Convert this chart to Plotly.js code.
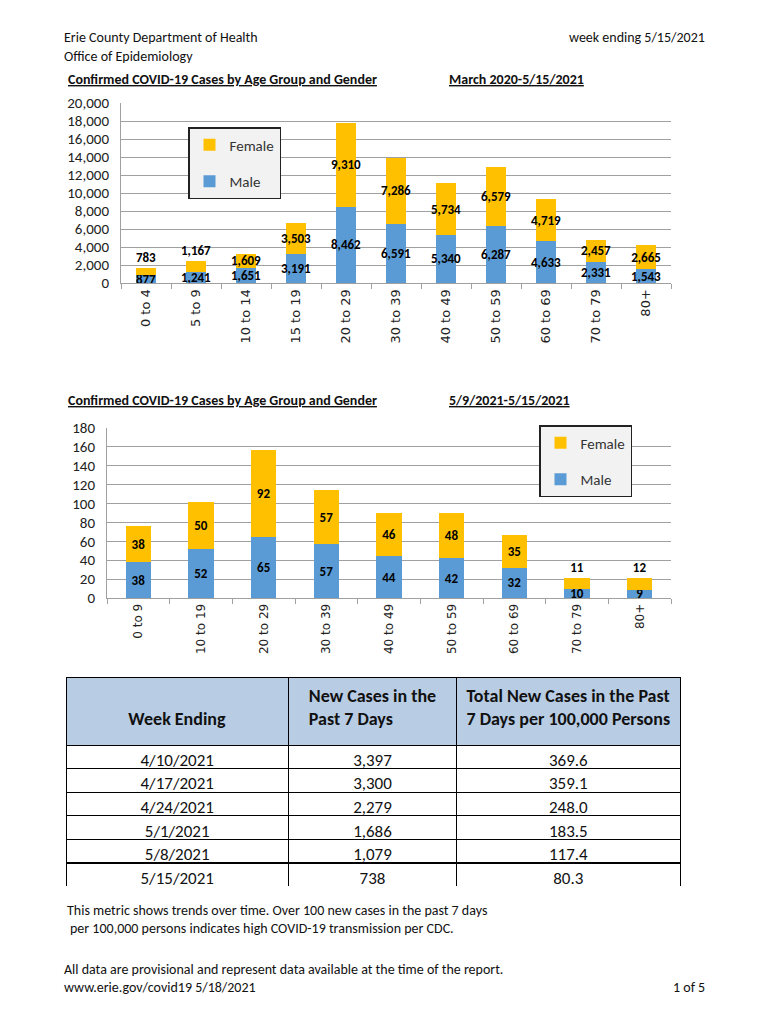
<!DOCTYPE html>
<html><head><meta charset="utf-8">
<script src="https://cdn.plot.ly/plotly-3.0.1.min.js"></script>
<style>html,body{margin:0;padding:0;background:#fff}#chart{width:770px;height:1024px}</style>
</head><body><div id="chart"></div>
<script>
// ---- data ----
const ageGroups1 = ['0 to 4','5 to 9','10 to 14','15 to 19','20 to 29','30 to 39','40 to 49','50 to 59','60 to 69','70 to 79','80+'];
const male1   = [877,1241,1651,3191,8462,6591,5340,6287,4633,2331,1543];
const female1 = [783,1167,1609,3503,9310,7286,5734,6579,4719,2457,2665];

const ageGroups2 = ['0 to 9','10 to 19','20 to 29','30 to 39','40 to 49','50 to 59','60 to 69','70 to 79','80+'];
const male2   = [38,52,65,57,44,42,32,10,9];
const female2 = [38,50,92,57,46,48,35,11,12];

const weekEnding = ['4/10/2021','4/17/2021','4/24/2021','5/1/2021','5/8/2021','5/15/2021'];
const newCases7d = [3397,3300,2279,1686,1079,738];
const ratePer100k = [369.6,359.1,248.0,183.5,117.4,80.3];
const tableHeaders = [' <br><b>Week Ending</b>','<b>New Cases in the<br>Past 7 Days</b>','<b>Total New Cases in the Past<br>7 Days per 100,000 Persons</b>'];

// ---- styling ----
const W = 770, H = 1024;
const px = v => v / W, py = v => 1 - v / H;
const NARROW = "'Liberation Sans Narrow','Arial Narrow',Carlito,Calibri,Lato,sans-serif";
const TICKF = "'DejaVu Sans',Verdana,sans-serif";
const BLUE = '#5b9bd5', GOLD = '#ffc000';
const fmt = v => v.toLocaleString('en-US');

// chart geometry (pixels)
const C1 = {x0: 121, x1: 671, top: 103, bottom: 283, max: 20000};
const C2 = {x0: 107, x1: 671, top: 428, bottom: 598, max: 180};

function barTrace(x, y, name, color, xa, ya, legend, rank, fs, chart, isTop) {
  const pxPerUnit = (chart.bottom - chart.top) / chart.max;
  const pos = isTop ? y.map(v => (v * pxPerUnit < 12 ? 'outside' : 'inside')) : 'inside';
  return {
    type: 'bar', x: x, y: y, name: name, xaxis: xa, yaxis: ya, legend: legend,
    legendgroup: name + legend, legendrank: rank,
    marker: {color: color, line: {width: 0}},
    text: y.map(fmt), textposition: pos, insidetextanchor: 'middle',
    constraintext: 'none', textangle: 0, cliponaxis: false,
    textfont: {family: NARROW, size: fs, color: '#000', weight: 'bold'},
    hoverinfo: 'skip'
  };
}

const data = [
  barTrace(ageGroups1, male1, 'Male', BLUE, 'x', 'y', 'legend', 2, 13, C1, false),
  barTrace(ageGroups1, female1, 'Female', GOLD, 'x', 'y', 'legend', 1, 13, C1, true),
  barTrace(ageGroups2, male2, 'Male', BLUE, 'x2', 'y2', 'legend2', 2, 13, C2, false),
  barTrace(ageGroups2, female2, 'Female', GOLD, 'x2', 'y2', 'legend2', 1, 13, C2, true),
  {
    type: 'table',
    domain: {x: [px(66), px(680)], y: [py(886), py(677)]},
    columnwidth: [222, 168, 223],
    header: {
      values: tableHeaders,
      align: 'center',
      height: 68,
      fill: {color: '#b8cce4'},
      line: {color: '#000', width: 1},
      font: {family: NARROW, size: 18, color: '#111'}
    },
    cells: {
      values: [weekEnding, newCases7d.map(fmt), ratePer100k.map(v => v.toFixed(1))],
      align: 'center',
      height: 23.6,
      fill: {color: '#fff'},
      line: {color: '#000', width: 1},
      font: {family: NARROW, size: 17, color: '#111'}
    }
  }
];

function yax(domain, range, dtick, fmtStr) {
  return {
    domain: domain, range: range, dtick: dtick, tickformat: fmtStr,
    showgrid: true, gridcolor: '#a0a0a0', gridwidth: 1,
    showline: true, linecolor: '#a0a0a0', linewidth: 1,
    ticks: '', ticklabelstandoff: 8,
    tickfont: {family: NARROW, size: 15, color: '#222'},
    zeroline: false, fixedrange: true
  };
}
function xax(domain, anchor, fs) {
  return {
    domain: domain, anchor: anchor, type: 'category',
    showline: true, linecolor: '#a0a0a0', linewidth: 1,
    ticks: 'outside', tickson: 'boundaries', ticklen: 5, tickcolor: '#a0a0a0',
    tickangle: -90, tickfont: {family: TICKF, size: fs, color: '#222'},
    showgrid: false, fixedrange: true
  };
}

const legendStyle = (x, y) => ({
  x: x, y: y, xanchor: 'left', yanchor: 'top',
  bgcolor: '#f2f2f2', bordercolor: '#222', borderwidth: 1.5,
  traceorder: 'grouped', tracegroupgap: 14,
  font: {family: NARROW, size: 15, color: '#333'},
  itemclick: false, itemdoubleclick: false
});

function txt(x, y, text, anchor, opts) {
  return Object.assign({
    xref: 'paper', yref: 'paper', x: px(x), y: py(y), text: text,
    xanchor: anchor || 'left', yanchor: 'middle', showarrow: false,
    font: {family: NARROW, size: 14, color: '#111'}
  }, opts || {});
}

const layout = {
  width: W, height: H, margin: {l: 0, r: 0, t: 0, b: 0},
  paper_bgcolor: '#fff', plot_bgcolor: '#fff',
  barmode: 'stack', bargap: 0.6, showlegend: true,
  xaxis: xax([px(C1.x0), px(C1.x1)], 'y', 13),
  yaxis: Object.assign(yax([py(C1.bottom), py(C1.top)], [0, C1.max], 2000, ',d'), {anchor: 'x'}),
  xaxis2: xax([px(C2.x0), px(C2.x1)], 'y2', 12),
  yaxis2: Object.assign(yax([py(C2.bottom), py(C2.top)], [0, C2.max], 20, 'd'), {anchor: 'x2'}),
  legend: legendStyle(px(188), py(127)),
  legend2: legendStyle(px(539), py(425)),
  annotations: [
    txt(62, 37, 'Erie County Department of Health'),
    txt(62, 56, 'Office of Epidemiology'),
    txt(707, 37, 'week ending 5/15/2021', 'right'),
    txt(66, 79, '<u><b>Confirmed COVID-19 Cases by Age Group and Gender</b></u>'),
    txt(447, 79, '<u><b>March 2020-5/15/2021</b></u>'),
    txt(66, 400, '<u><b>Confirmed COVID-19 Cases by Age Group and Gender</b></u>'),
    txt(447, 400, '<u><b>5/9/2021-5/15/2021</b></u>'),
    txt(65, 910, 'This metric shows trends over time. Over 100 new cases in the past 7 days'),
    txt(68, 928, 'per 100,000 persons indicates high COVID-19 transmission per CDC.'),
    txt(62, 969, 'All data are provisional and represent data available at the time of the report.'),
    txt(62, 987, 'www.erie.gov/covid19 5/18/2021'),
    txt(707, 987, '1 of 5', 'right')
  ]
};

Plotly.newPlot('chart', data, layout, {staticPlot: true, displayModeBar: false});
</script></body></html>
